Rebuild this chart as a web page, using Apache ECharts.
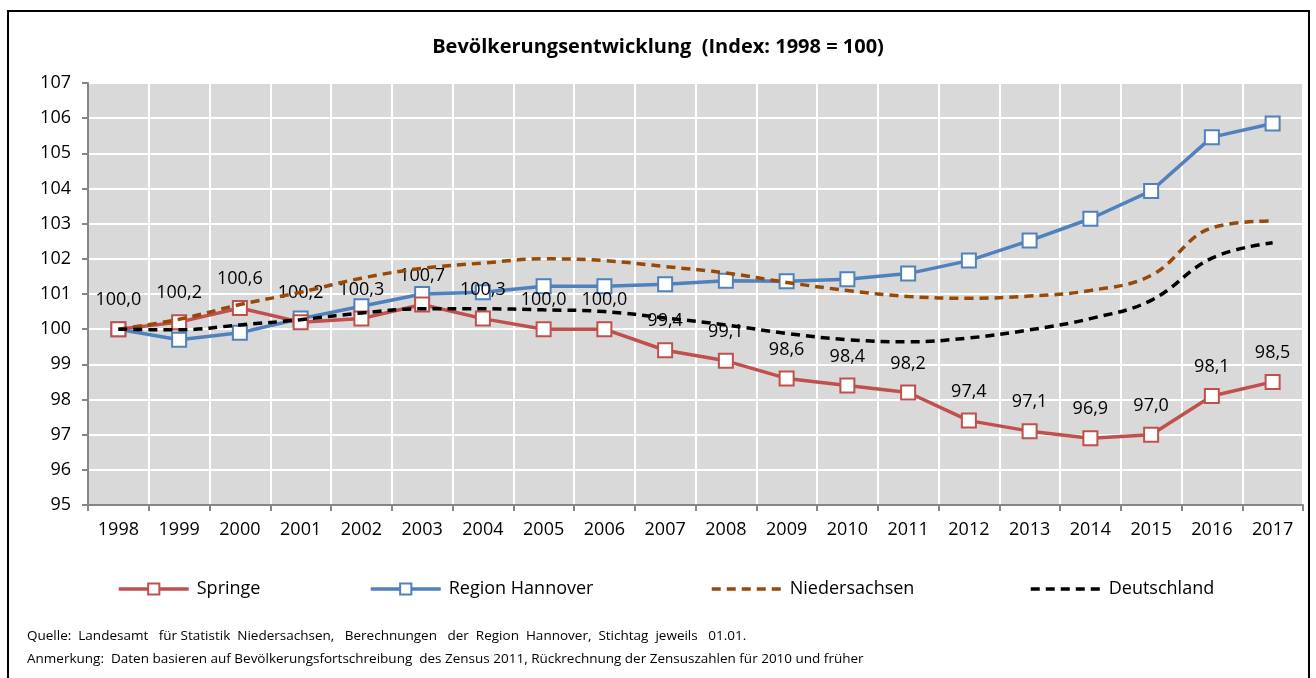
<!DOCTYPE html>
<html>
<head>
<meta charset="utf-8">
<script src="https://cdn.jsdelivr.net/npm/echarts@6/dist/echarts.min.js"></script>
<style>
  html, body { margin: 0; padding: 0; background: #fff; }
  #chart { width: 1316px; height: 678px; }
</style>
</head>
<body>
<div id="chart"></div>
<script>
const years = ['1998', '1999', '2000', '2001', '2002', '2003', '2004', '2005', '2006', '2007',
  '2008', '2009', '2010', '2011', '2012', '2013', '2014', '2015', '2016', '2017']
const springe = [100.0, 100.2, 100.6, 100.2, 100.3, 100.7, 100.3, 100.0, 100.0, 99.4,
  99.1, 98.6, 98.4, 98.2, 97.4, 97.1, 96.9, 97.0, 98.1, 98.5]
const regionHannover = [100.0, 99.7, 99.9, 100.3, 100.65, 101.0, 101.05, 101.22, 101.22, 101.28,
  101.38, 101.36, 101.42, 101.58, 101.95, 102.52, 103.14, 103.93, 105.46, 105.85]
const niedersachsen = [100.0, 100.28, 100.7, 101.05, 101.45, 101.73, 101.88, 102.0, 101.95, 101.78,
  101.6, 101.33, 101.1, 100.93, 100.88, 100.94, 101.1, 101.53, 102.88, 103.08]
const deutschland = [100.0, 99.98, 100.12, 100.27, 100.46, 100.58, 100.58, 100.55, 100.5, 100.32,
  100.12, 99.88, 99.7, 99.64, 99.75, 99.98, 100.3, 100.82, 102.02, 102.46]
const yTicks = { min: 95, max: 107, step: 1 }

const font = '"Open Sans", sans-serif'
const chart = echarts.init(document.getElementById('chart'))

const legendBase = {
  top: 575, itemWidth: 70, itemHeight: 14, itemGap: 0,
  lineStyle: { width: 3.5 },
  textStyle: { fontFamily: font, fontSize: 18, color: '#000', padding: [0, 0, 0, 3] }
}

chart.setOption({
  animation: false,
  backgroundColor: '#fff',
  title: {
    text: 'Bevölkerungsentwicklung  (Index: 1998 = 100)',
    left: 'center', top: 32,
    textStyle: { fontFamily: font, fontSize: 20, fontWeight: 'bold', color: '#000' }
  },
  legend: [
    Object.assign({ left: 112, data: ['Springe'] }, legendBase),
    Object.assign({ left: 364, data: ['Region Hannover'] }, legendBase),
    Object.assign({ left: 705, data: ['Niedersachsen'] }, legendBase),
    Object.assign({ left: 1024, data: ['Deutschland'] }, legendBase)
  ],
  grid: { left: 88, right: 13, top: 83, bottom: 173 },
  xAxis: {
    type: 'category', data: years, boundaryGap: true,
    axisLine: { lineStyle: { color: '#868686', width: 2 } },
    axisTick: { show: true, length: 6, lineStyle: { color: '#868686', width: 2 } },
    axisLabel: { fontFamily: font, fontSize: 18, color: '#000', margin: 16 },
    splitLine: { show: true, lineStyle: { color: '#fff', width: 2 } },
    splitArea: { show: false }
  },
  yAxis: {
    type: 'value', min: yTicks.min, max: yTicks.max, interval: yTicks.step,
    axisLine: { show: true, lineStyle: { color: '#868686', width: 2 } },
    axisTick: { show: true, length: 6, lineStyle: { color: '#868686', width: 2 } },
    axisLabel: { fontFamily: font, fontSize: 18, color: '#000', margin: 17 },
    splitLine: { show: true, lineStyle: { color: '#fff', width: 2 } }
  },
  graphic: [
    { type: 'rect', shape: { x: 88, y: 83, width: 1215, height: 422 }, style: { fill: '#d9d9d9' }, z: -10, silent: true },
    { type: 'rect', shape: { x: 8, y: 11, width: 1301, height: 720 }, style: { fill: null, stroke: '#000', lineWidth: 2 }, z: 100, silent: true },
    { type: 'text', left: 27, top: 629, style: { text: 'Quelle:  Landesamt   für Statistik  Niedersachsen,   Berechnungen   der  Region  Hannover,  Stichtag  jeweils   01.01.', font: '13.5px ' + font, fill: '#000' } },
    { type: 'text', left: 27, top: 652, style: { text: 'Anmerkung:  Daten basieren auf Bevölkerungsfortschreibung  des Zensus 2011, Rückrechnung der Zensuszahlen für 2010 und früher', font: '13.5px ' + font, fill: '#000' } }
  ],
  series: [
    {
      name: 'Springe', type: 'line', data: springe, z: 4,
      symbol: 'rect', symbolSize: 14,
      lineStyle: { color: '#c0504d', width: 3.5 },
      itemStyle: { color: '#fff', borderColor: '#c0504d', borderWidth: 2 },
      label: {
        show: true, position: 'top', distance: 12,
        fontFamily: font, fontSize: 18, color: '#000',
        formatter: p => p.value.toFixed(1).replace('.', ',')
      }
    },
    {
      name: 'Region Hannover', type: 'line', data: regionHannover, z: 3,
      symbol: 'rect', symbolSize: 14,
      lineStyle: { color: '#4f81bd', width: 3.5 },
      itemStyle: { color: '#fff', borderColor: '#4f81bd', borderWidth: 2 }
    },
    {
      name: 'Niedersachsen', type: 'line', data: niedersachsen, z: 5,
      smooth: 0.4, symbol: 'none',
      lineStyle: { color: '#984807', width: 3.5, type: [9, 6] },
      itemStyle: { color: 'rgba(0,0,0,0)', borderColor: 'rgba(0,0,0,0)', borderWidth: 0 }
    },
    {
      name: 'Deutschland', type: 'line', data: deutschland, z: 6,
      smooth: 0.4, symbol: 'none',
      lineStyle: { color: '#000', width: 3.5, type: [9, 6] },
      itemStyle: { color: 'rgba(0,0,0,0)', borderColor: 'rgba(0,0,0,0)', borderWidth: 0 }
    }
  ]
})
</script>
</body>
</html>
